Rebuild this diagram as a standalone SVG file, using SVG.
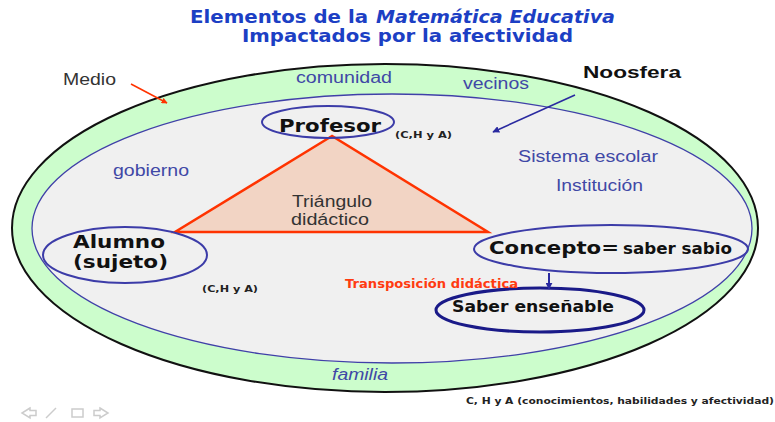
<svg xmlns="http://www.w3.org/2000/svg" width="775" height="422" viewBox="0 0 775 422">
<defs>
<style>
.title{font-family:"DejaVu Sans",Verdana,sans-serif;font-weight:bold;font-size:17px;fill:#1c3fc4}
.lbl{font-family:"Liberation Sans",Arial,sans-serif;font-size:16px;fill:#4048a6}
.node{fill:none;stroke:#3c3ca8;stroke-width:2}
.ntxt{font-family:"DejaVu Sans",Verdana,sans-serif;font-weight:bold;fill:#111}
.small{font-family:"DejaVu Sans",Verdana,sans-serif;font-weight:bold;font-size:8.5px;fill:#222}
</style>
<marker id="ar" viewBox="0 0 10 10" refX="9" refY="5" markerWidth="6" markerHeight="6" orient="auto" markerUnits="userSpaceOnUse">
<path d="M0,0 L10,5 L0,10 z" fill="#ff3300"/>
</marker>
<marker id="ab" viewBox="0 0 10 10" refX="9" refY="5" markerWidth="7" markerHeight="7" orient="auto" markerUnits="userSpaceOnUse">
<path d="M0,0 L10,5 L0,10 z" fill="#2a2aa0"/>
</marker>
</defs>
<rect width="775" height="422" fill="#ffffff"/>

<g id="title">
<text class="title" x="190" y="23" textLength="178" lengthAdjust="spacingAndGlyphs">Elementos de la</text>
<text class="title" x="376" y="23" font-style="italic" textLength="239" lengthAdjust="spacingAndGlyphs">Matemática Educativa</text>
<text class="title" x="242" y="42" textLength="331" lengthAdjust="spacingAndGlyphs">Impactados por la afectividad</text>
</g>

<g id="medio">
<ellipse cx="385" cy="228" rx="373" ry="164" fill="#ccfdcc" stroke="#111" stroke-width="2"/>
<text x="63" y="85" font-family="Liberation Sans,Arial,sans-serif" font-size="16" fill="#333" textLength="53" lengthAdjust="spacingAndGlyphs">Medio</text>
</g>

<g id="entorno">
<ellipse cx="392" cy="228.5" rx="360" ry="134.5" fill="#f0f0f0" stroke="#4040a8" stroke-width="1.3"/>
<text class="lbl" x="296" y="83" textLength="96" lengthAdjust="spacingAndGlyphs">comunidad</text>
<text class="lbl" x="463" y="89" textLength="66" lengthAdjust="spacingAndGlyphs">vecinos</text>
<text class="lbl" x="113" y="176" textLength="76" lengthAdjust="spacingAndGlyphs">gobierno</text>
<text class="lbl" x="518" y="162" textLength="140" lengthAdjust="spacingAndGlyphs">Sistema escolar</text>
<text class="lbl" x="556" y="191" textLength="87" lengthAdjust="spacingAndGlyphs">Institución</text>
<text class="lbl" x="332" y="380" font-style="italic" fill="#2a48d0" textLength="56" lengthAdjust="spacingAndGlyphs">familia</text>
</g>

<g id="noosfera">
<text x="583" y="78" font-family="Liberation Sans,Arial,sans-serif" font-weight="bold" font-size="16" fill="#111" textLength="98" lengthAdjust="spacingAndGlyphs">Noosfera</text>
</g>

<g id="triangulo">
<polygon points="332,136 175,232 488,232" fill="#f2d4c4" stroke="#ff3300" stroke-width="2.5" stroke-linejoin="miter"/>
<text x="292" y="207" font-family="Liberation Sans,Arial,sans-serif" font-size="16" fill="#333" textLength="80" lengthAdjust="spacingAndGlyphs">Triángulo</text>
<text x="291" y="225" font-family="Liberation Sans,Arial,sans-serif" font-size="16" fill="#333" textLength="78" lengthAdjust="spacingAndGlyphs">didáctico</text>
</g>

<g id="profesor">
<ellipse class="node" cx="328" cy="122" rx="66" ry="16"/>
<text class="ntxt" x="279" y="132" font-size="18" textLength="102" lengthAdjust="spacingAndGlyphs">Profesor</text>
<text class="small" x="395" y="138" textLength="57" lengthAdjust="spacingAndGlyphs">(C,H y A)</text>
</g>

<g id="alumno">
<ellipse class="node" cx="125" cy="255" rx="82" ry="28"/>
<text class="ntxt" x="73" y="248" font-size="18" textLength="92" lengthAdjust="spacingAndGlyphs">Alumno</text>
<text class="ntxt" x="73" y="268" font-size="18" textLength="95" lengthAdjust="spacingAndGlyphs">(sujeto)</text>
<text class="small" x="202" y="292" textLength="56" lengthAdjust="spacingAndGlyphs">(C,H y A)</text>
</g>

<g id="concepto">
<ellipse class="node" cx="611" cy="249" rx="137" ry="24"/>
<text class="ntxt" x="489" y="254" font-size="18" textLength="130" lengthAdjust="spacingAndGlyphs">Concepto=</text>
<text class="ntxt" x="623" y="254" font-size="15" textLength="109" lengthAdjust="spacingAndGlyphs">saber sabio</text>
</g>

<g id="saber-ensenable">
<ellipse cx="540" cy="310" rx="104" ry="22" fill="none" stroke="#1a1a88" stroke-width="3"/>
<text class="ntxt" x="452" y="312" font-size="16" textLength="162" lengthAdjust="spacingAndGlyphs">Saber enseñable</text>
</g>

<g id="connectors">
<line x1="131" y1="84" x2="167" y2="103" stroke="#ff3300" stroke-width="1.5" marker-end="url(#ar)"/>
<line x1="575" y1="95" x2="493" y2="132" stroke="#2a2aa0" stroke-width="1.6" marker-end="url(#ab)"/>
<line x1="549" y1="273" x2="549" y2="289" stroke="#2a2aa0" stroke-width="2" marker-end="url(#ab)"/>
<text x="345" y="288" font-family="DejaVu Sans,Verdana,sans-serif" font-weight="bold" font-size="12" fill="#ff3b10" textLength="173" lengthAdjust="spacingAndGlyphs">Transposición didáctica</text>
</g>

<g id="nota">
<text x="466" y="404" font-family="DejaVu Sans,Verdana,sans-serif" font-weight="bold" font-size="9" fill="#222" textLength="308" lengthAdjust="spacingAndGlyphs">C, H y A (conocimientos, habilidades y afectividad)</text>
</g>

<g id="nav" fill="none" stroke="#cccccc" stroke-width="1.5">
<path d="M30,408 L22,413 L30,418 L30,415.5 L36,415.5 L36,410.5 L30,410.5 z"/>
<line x1="46" y1="418" x2="56" y2="408"/>
<rect x="72" y="409" width="11" height="8"/>
<path d="M100,408 L108,413 L100,418 L100,415.5 L94,415.5 L94,410.5 L100,410.5 z"/>
</g>
</svg>
